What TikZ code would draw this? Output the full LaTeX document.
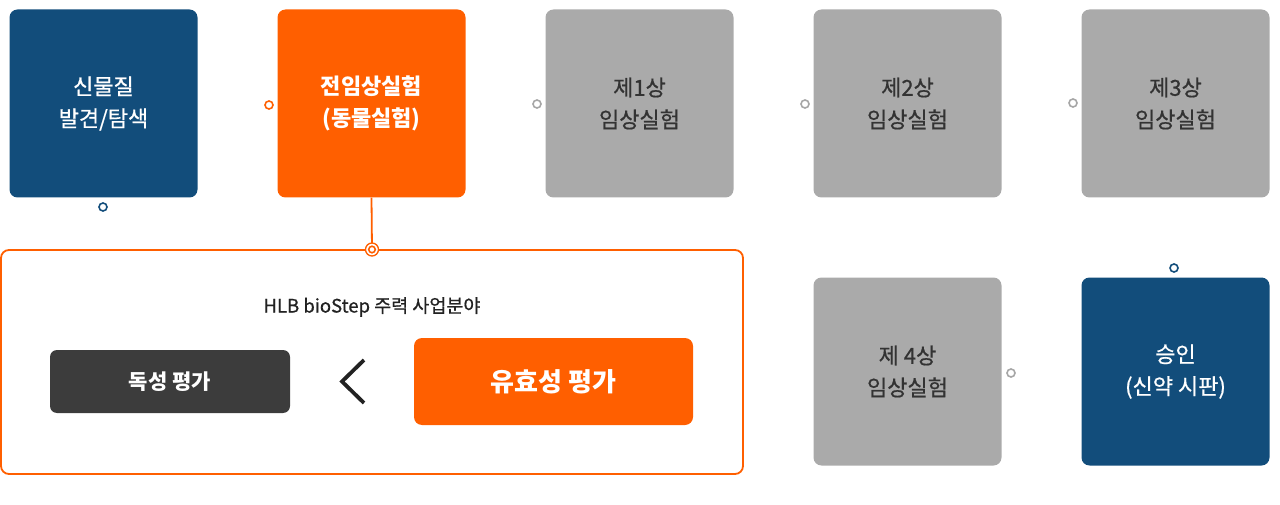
\documentclass[tikz,border=0pt]{standalone}
\usepackage{fontspec}
\setmainfont{Noto Sans CJK KR}
\newfontfamily\kr{Noto Sans CJK KR}
\newfontfamily\krmed[FakeBold=0.7]{Noto Sans CJK KR}
\definecolor{navy}{HTML}{124D7B}
\definecolor{orng}{HTML}{FF5F00}
\definecolor{grayb}{HTML}{AAAAAA}
\definecolor{grayc}{HTML}{A6A6A6}
\definecolor{darkb}{HTML}{3C3C3C}
\definecolor{txt}{HTML}{333333}
\begin{document}
\begin{tikzpicture}[x=1pt,y=-1pt,
  stage/.style={rounded corners=8pt,minimum width=188pt,minimum height=188pt,inner sep=0pt,align=center,
    font=\krmed\fontsize{22}{32}\selectfont},
  navybox/.style={stage,fill=navy,text=white},
  orangebox/.style={stage,fill=orng,text=white,font=\kr\bfseries\fontsize{22}{32}\selectfont},
  graybox/.style={stage,fill=grayb,text=txt},
  dot/.style={circle,draw=#1,line width=1.6pt,fill=white,minimum size=8pt,inner sep=0pt},
]
\useasboundingbox (0,0) rectangle (1280,505);
% top row
\node[navybox] (s1) at (103.5,103.5) {신물질\\발견/탐색};
\node[orangebox] (s2) at (371.5,103.5) {전임상실험\\(동물실험)};
\node[graybox] (s3) at (639.5,103.5) {제1상\\임상실험};
\node[graybox] (s4) at (907.5,103.5) {제2상\\임상실험};
\node[graybox] (s5) at (1175.5,103.5) {제3상\\임상실험};
% second row
\node[graybox] (s6) at (907.5,371.5) {제 4상\\임상실험};
\node[navybox] (s7) at (1175.5,371.5) {승인\\(신약 시판)};
% markers
\node[dot=navy] (m1) at (103,207) {};
\node[dot=orng] (m2) at (269,105) {};
\node[dot=grayc] (m3) at (537,104) {};
\node[dot=grayc] (m4) at (805,104) {};
\node[dot=grayc] (m5) at (1073,103) {};
\node[dot=navy] (m6) at (1174,268) {};
\node[dot=grayc] (m7) at (1011,373) {};
% lower panel
\node[draw=orng,line width=1.8pt,rounded corners=8pt,minimum width=742pt,minimum height=224pt,inner sep=0pt] (panel) at (372,362) {};
\coordinate (joint) at (372,249.5);
\draw[orng,line width=1.8pt] (s2.south) -- (joint);
\node[circle,draw=orng,line width=1.3pt,fill=white,minimum size=13pt,inner sep=0pt] (jo) at (joint) {};
\node[circle,draw=orng,line width=1.6pt,minimum size=6.5pt,inner sep=0pt] (ji) at (joint) {};
\node[font=\krmed\fontsize{18.5}{20}\selectfont,text={rgb,255:red,34;green,34;blue,34}] (title) at (372,307) {HLB bioStep 주력 사업분야};
\node[fill=darkb,rounded corners=7pt,minimum width=240pt,minimum height=63pt,inner sep=0pt,text=white,
  font=\kr\bfseries\fontsize{21}{22}\selectfont] (tox) at (170,381.5) {독성 평가};
\node[fill=orng,rounded corners=8pt,minimum width=279pt,minimum height=87pt,inner sep=0pt,text=white,
  font=\kr\bfseries\fontsize{26}{28}\selectfont] (eff) at (553.5,381.5) {유효성 평가};
\coordinate (cv1) at (364,360);
\coordinate (cv2) at (342,381.5);
\coordinate (cv3) at (364,403);
\draw[line width=3.8pt,color={rgb,255:red,34;green,34;blue,34}] (cv1) -- (cv2) -- (cv3);
\end{tikzpicture}
\end{document}
